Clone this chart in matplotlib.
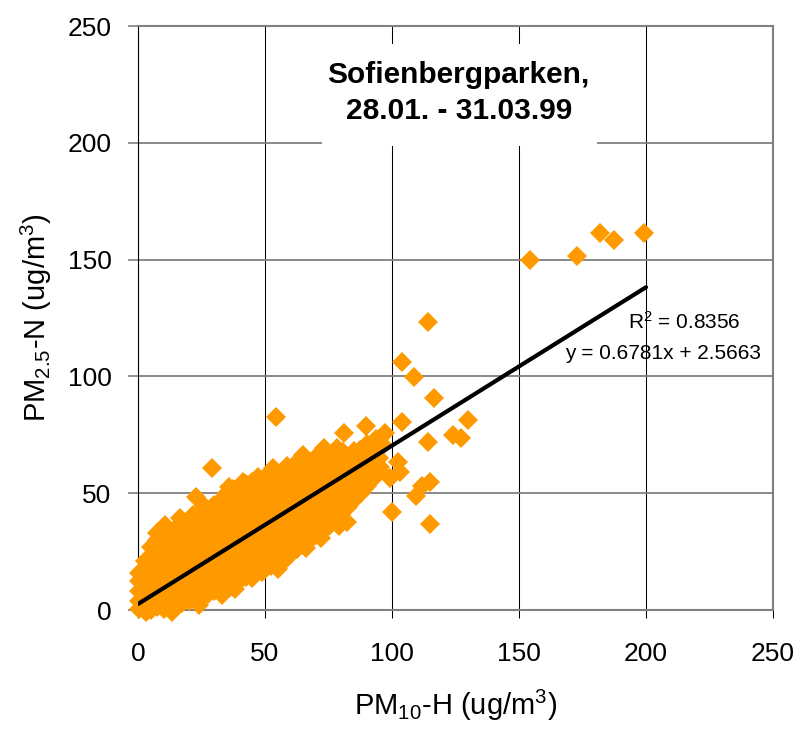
import matplotlib
matplotlib.use("Agg")
import matplotlib.pyplot as plt
from matplotlib.patches import Rectangle

plt.rcParams['font.family'] = ['Liberation Sans', 'DejaVu Sans']
plt.rcParams['mathtext.fontset'] = 'custom'
plt.rcParams['mathtext.rm'] = 'Liberation Sans'
plt.rcParams['mathtext.it'] = 'Liberation Sans:italic'
plt.rcParams['mathtext.bf'] = 'Liberation Sans:bold'

# main body of the hourly pairs, one PM10 value per column
cloud_pm10 = [0.4, 2.7, 5.1, 7.6, 10.2, 12.6, 15.1, 17.5, 20.1, 22.6,
              25.0, 27.6, 30.1, 32.5, 35.0, 37.6, 40.1, 42.5, 45.0, 47.6,
              50.1, 52.5, 55.0, 57.6, 60.1, 62.5, 65.0, 67.6, 70.1, 72.5,
              75.0, 77.6, 80.1, 82.5, 85.0, 87.6, 90.1, 92.5, 95.0]
cloud_pm25 = [
    [0.5, 4, 8, 12.5, 16],
    [1, 3.5, 6, 9, 13, 17, 21],
    [0, 2.5, 7, 11, 15.5, 19, 23, 27],
    [1.5, 5, 9.5, 13, 18, 22, 26, 30],
    [0.5, 3, 7, 12, 16, 20.5, 24, 28, 31.5],
    [1, 5.5, 9, 14, 18, 22.5, 27, 30, 33],
    [2, 6, 11, 15, 19.5, 24, 28.5, 32, 35],
    [3, 8, 12.5, 17, 21, 25.5, 30, 34, 37],
    [4, 9, 13.5, 18, 23, 27, 31.5, 35, 38],
    [5, 10, 15, 19.5, 24, 28.5, 33, 37, 40],
    [6, 11, 16, 20.5, 25, 29.5, 34, 38, 41],
    [7, 12, 17, 22, 26.5, 31, 35, 39, 43],
    [8, 13, 18, 23, 27.5, 32, 36.5, 41, 45],
    [9.5, 14, 19, 24, 28.5, 33, 37.5, 42, 46],
    [10, 15, 20, 25, 29.5, 34, 38.5, 43, 47.5, 50],
    [11.5, 16, 21, 26, 30.5, 35, 39.5, 44, 48.5, 52],
    [13, 17.5, 22, 27, 31.5, 36, 40.5, 45, 49.5, 53],
    [14, 19, 23.5, 28, 32.5, 37, 41.5, 46, 50.5, 54],
    [15, 20, 24.5, 29, 33.5, 38, 42.5, 47, 51, 55],
    [16.5, 21, 25.5, 30, 34.5, 39, 43.5, 48, 52, 56],
    [17.5, 22, 27, 31.5, 36, 40.5, 45, 49, 53, 57],
    [19, 23.5, 28, 32.5, 37, 41.5, 46, 50, 54.5, 58],
    [20.5, 25, 29.5, 34, 38.5, 43, 47, 51.5, 55.5],
    [22, 26.5, 31, 35.5, 40, 44, 48.5, 52.5, 57],
    [24, 28.5, 33, 37, 41.5, 46, 50, 54, 58.5],
    [26, 30.5, 34.5, 39, 43.5, 47.5, 52, 56, 60],
    [28, 32, 36.5, 41, 45, 49.5, 53.5, 57.5, 61.5],
    [30, 34, 38.5, 43, 47, 51, 55.5, 59.5, 63],
    [32, 36, 40.5, 44.5, 49, 53, 57, 61, 64],
    [34, 38, 42.5, 46.5, 51, 55, 59, 63],
    [36, 40.5, 45, 49, 53, 57, 61, 65.5],
    [39, 43, 47, 51.5, 55.5, 60, 64],
    [41, 45.5, 50, 54, 58, 62.5, 66],
    [44, 48.5, 53, 57, 61, 65],
    [47, 51, 55.5, 60, 64, 68],
    [50, 55, 59.5, 64, 68.5],
    [53, 58, 62.5, 67, 71],
    [56, 61, 66, 70],
    [60, 65, 69, 73],
]

# scattered hours around the main body
sparse_pm10 = [54.2, 29.3, 22.8, 73.4, 65.1, 82.4, 97.2, 93.7, 96.6, 87.4,
               80.8, 76.9, 84.8, 75.6, 57.2, 44.8, 48.7, 41.5, 47.4, 53.3,
               61.1, 69.0, 33.6, 21.8, 7.4, 13.9, 62.5, 52.0, 41.5, 70.3,
               89.8, 81.1, 102.5, 103.1, 99.2, 95.3, 115.0, 111.7, 109.4, 100.1,
               115.0, 104.1, 114.3, 123.9, 127.0, 130.0, 104.0, 108.8, 116.7, 114.3,
               154.5, 172.7, 181.9, 187.5, 199.3,
               10.5, 16.5, 26.0, 36.0, 58.5, 63.0, 71.0, 78.5,
               3.0, 13.5, 24.0, 33.0, 38.0, 55.0, 66.0, 72.0, 79.0]
sparse_pm25 = [82.5, 60.7, 48.2, 69.2, 66.4, 37.8, 75.6, 73.1, 70.6, 68.5,
               67.8, 66.4, 48.5, 38.5, 20.7, 13.6, 16.4, 54.9, 57.1, 60.7,
               59.9, 58.5, 47.8, 40.7, 32.8, 33.5, 26.4, 20.7, 14.3, 34.2,
               78.9, 75.6, 63.5, 59.2, 56.4, 61.3, 54.9, 53.1, 48.8, 42.1,
               36.8, 80.4, 72.0, 74.9, 73.5, 81.3, 106.3, 99.6, 90.9, 123.4,
               149.8, 151.7, 161.3, 158.4, 161.3,
               36.5, 39.5, 44.5, 52.5, 61.5, 64.0, 66.5, 69.5,
               -1.0, -1.0, 2.0, 6.5, 9.0, 17.5, 26.5, 31.0, 36.0]

# linear trendline
fit_slope = 0.6781
fit_intercept = 2.5663
r_squared = 0.8356
fit_pm10 = [0, 200]

pm10 = []
pm25 = []
for x, col in zip(cloud_pm10, cloud_pm25):
    pm10 += [x] * len(col)
    pm25 += col
pm10 += sparse_pm10
pm25 += sparse_pm25

fig = plt.figure(figsize=(7.99, 7.29), dpi=100)
ax = fig.add_axes([0.1727, 0.1632, 0.7948, 0.8011])

ax.plot(pm10, pm25, 'D', ms=10, color='#FF9900', mew=0, clip_on=False, zorder=3)

fit_y = [fit_slope * x + fit_intercept for x in fit_pm10]
ax.plot(fit_pm10, fit_y, color='black', lw=3, solid_capstyle='round', zorder=4)

ax.set_xlim(0, 250)
ax.set_ylim(0, 250)
ax.set_xticks(range(0, 251, 50))
ax.set_yticks(range(0, 251, 50))

ax.set_axisbelow(True)
ax.xaxis.grid(True, color='black', lw=0.75)
ax.yaxis.grid(True, color='#808080', lw=1.3)

ax.spines['left'].set_color('black')
ax.spines['left'].set_linewidth(0.8)
for side in ['top', 'right', 'bottom']:
    ax.spines[side].set_color('#808080')
    ax.spines[side].set_linewidth(1.5)

ax.tick_params(axis='x', direction='out', length=6, width=0.75, color='black',
               labelsize=19, pad=17)
ax.tick_params(axis='y', direction='out', length=7, width=1.2, color='#808080',
               labelsize=19, pad=12)

ax.set_xlabel('PM$_{10}$-H (ug/m$^{3}$)', fontsize=21, labelpad=16)
ax.set_ylabel('PM$_{2.5}$-N (ug/m$^{3}$)', fontsize=21, labelpad=10)

# white panel behind the station name
ax.add_patch(Rectangle((0.29, 0.794), 0.433, 0.175, transform=ax.transAxes,
                       facecolor='white', edgecolor='none', zorder=5))
ax.text(0.505, 0.885, 'Sofienbergparken,\n28.01. - 31.03.99', transform=ax.transAxes,
        ha='center', va='center', fontsize=21.5, fontweight='bold',
        linespacing=1.35, zorder=6)

ax.text(0.86, 0.493, '$\\mathregular{R^2}$ = %.4f' % r_squared, transform=ax.transAxes,
        ha='center', va='center', fontsize=15, zorder=2)
ax.text(0.827, 0.44, 'y = %.4fx + %.4f' % (fit_slope, fit_intercept),
        transform=ax.transAxes, ha='center', va='center', fontsize=15, zorder=2)

fig.savefig('out.png', dpi=100)
